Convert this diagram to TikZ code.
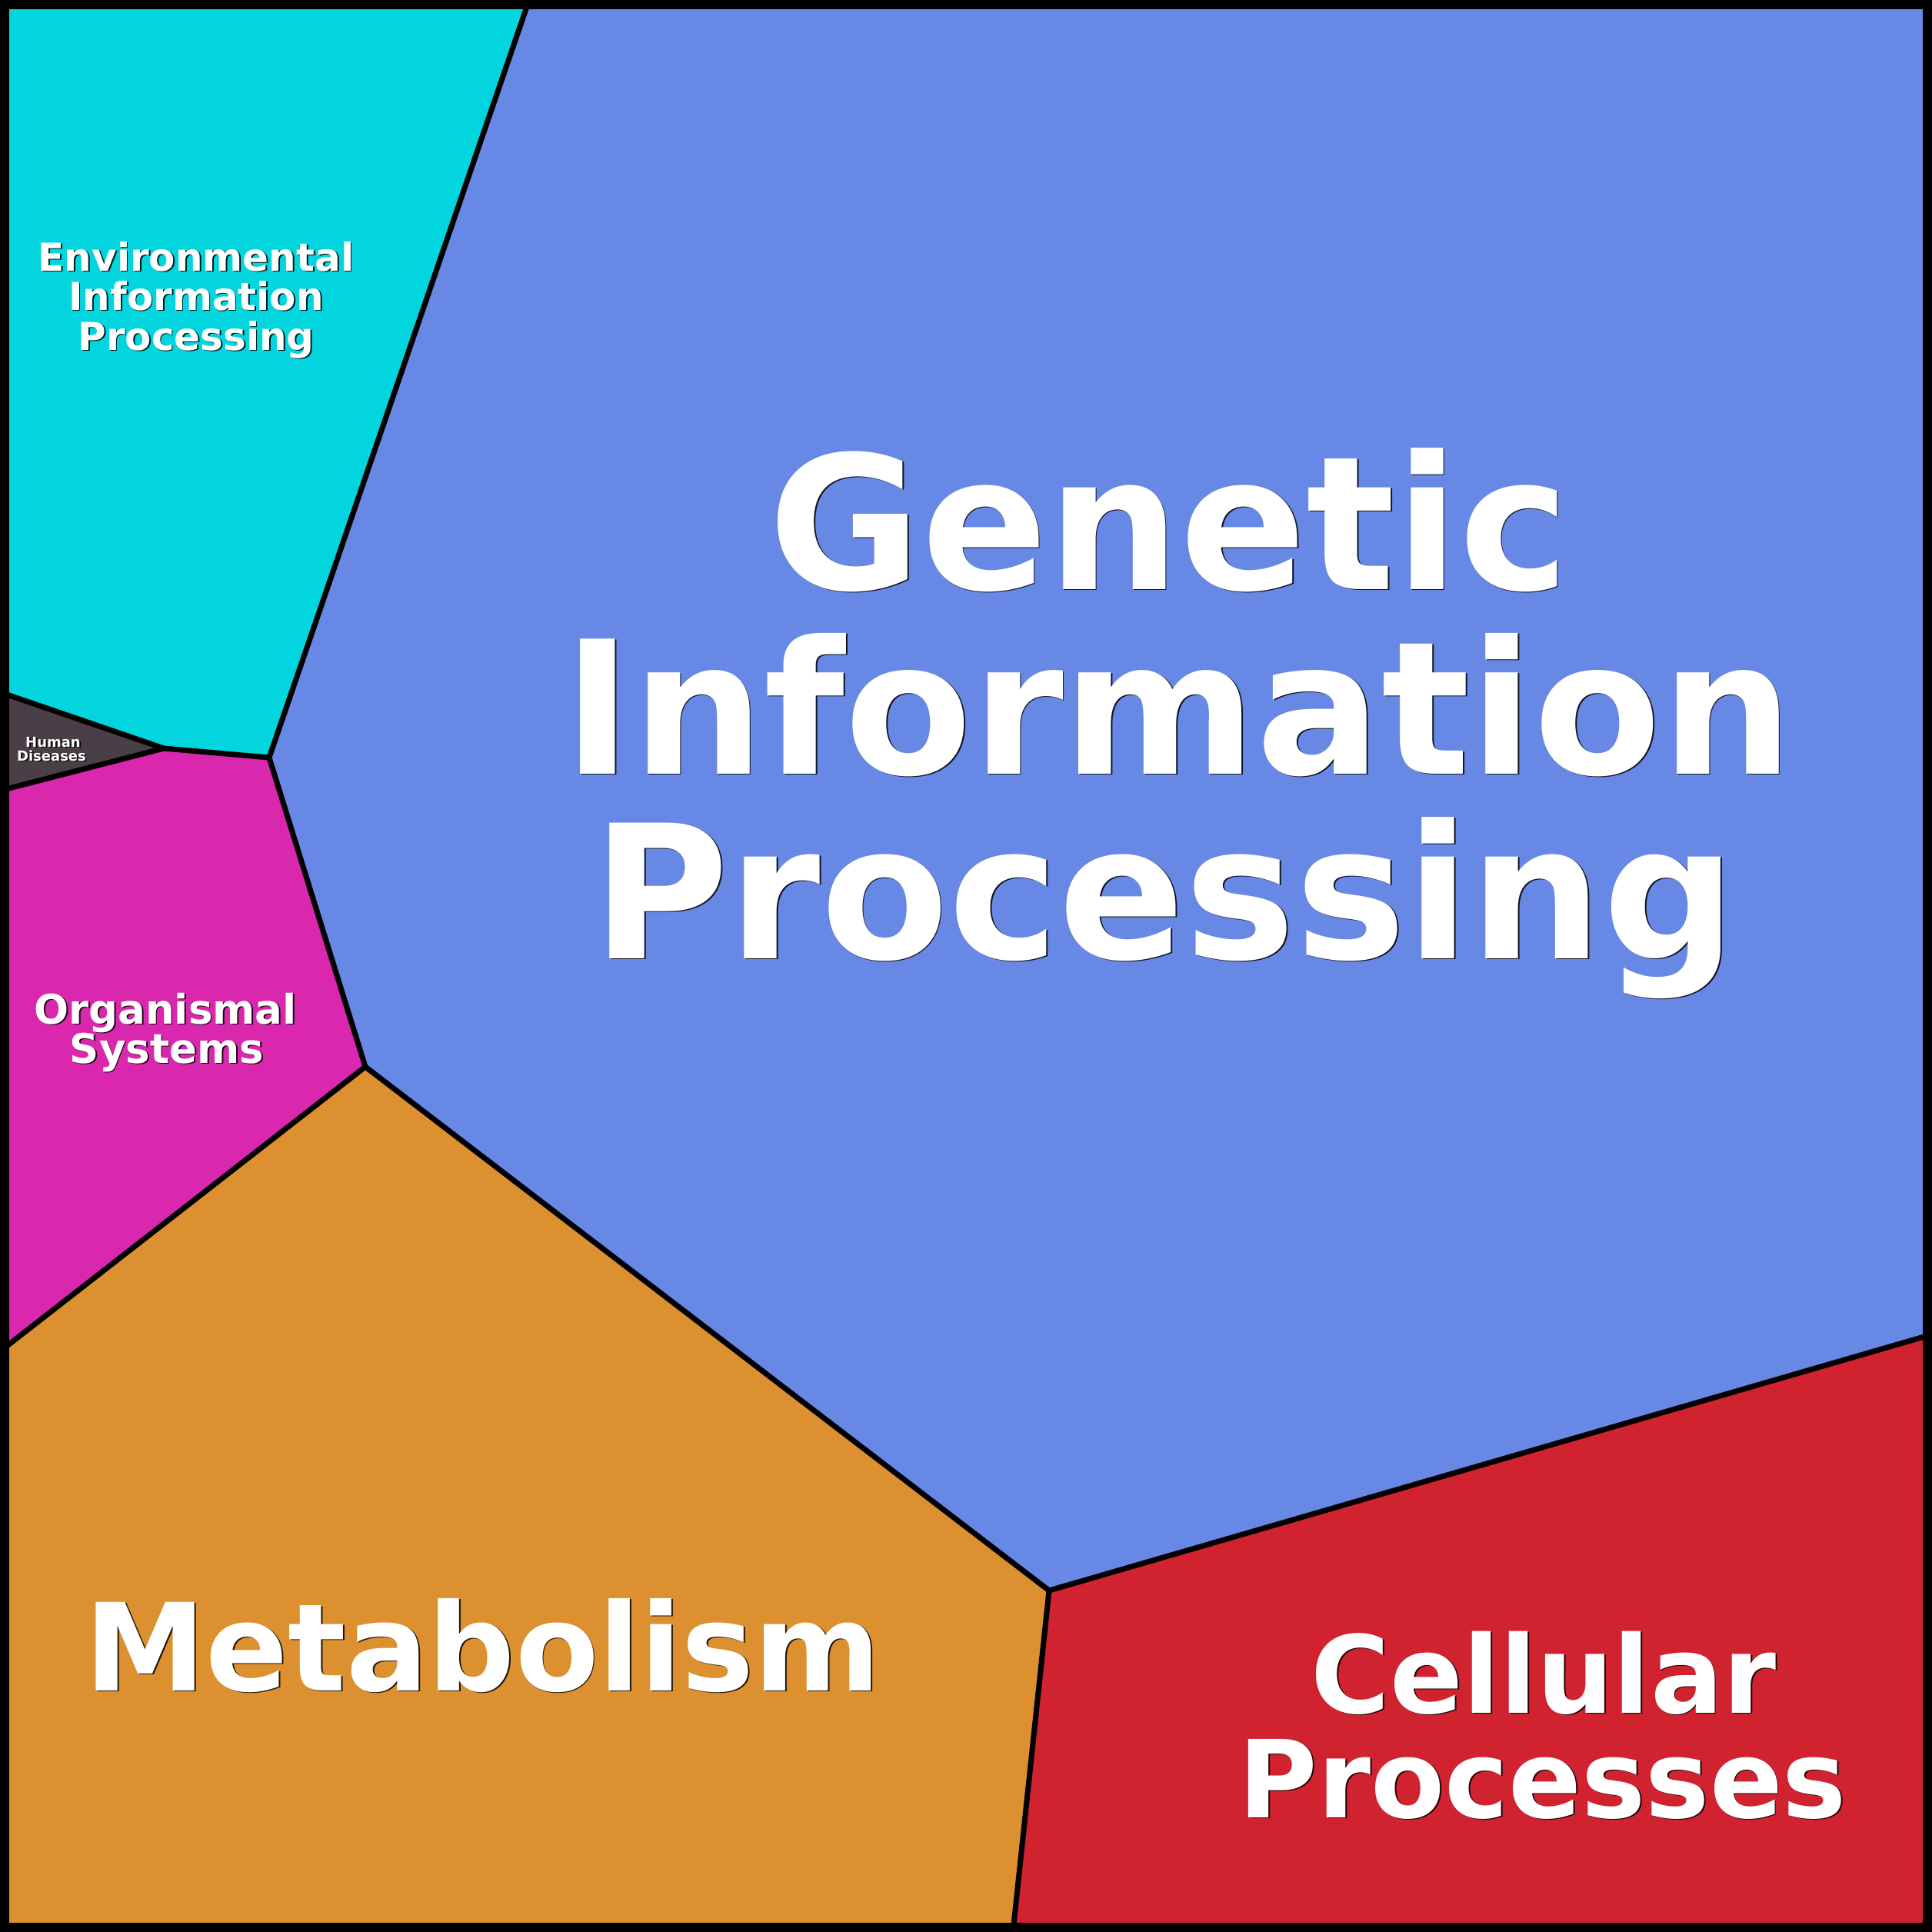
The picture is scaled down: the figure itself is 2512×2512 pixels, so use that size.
\documentclass[tikz,border=0pt]{standalone}
\usepackage{fontspec}
\newfontfamily\dvs{DejaVu Sans}
\definecolor{cEnv}{HTML}{03D5DF}
\definecolor{cGen}{HTML}{6789E5}
\definecolor{cHum}{HTML}{4B3F47}
\definecolor{cOrg}{HTML}{D927AE}
\definecolor{cMet}{HTML}{DC902F}
\definecolor{cCel}{HTML}{D12230}
\tikzset{
  cellline/.style={draw=black,line width=7pt,line join=round},
  txtshadow/.style={text=black,anchor=base,inner sep=0pt,opacity=0.85},
  txtmain/.style={text=white,anchor=base,inner sep=0pt}
}
% \lbl{name}{x}{y}{size}{text}
\newcommand{\lbl}[5]{%
  \node[txtshadow,font=\dvs\bfseries\fontsize{#4}{#4}\selectfont] (#1s) at (#2+1.8,#3+1.8) {#5};
  \node[txtmain,font=\dvs\bfseries\fontsize{#4}{#4}\selectfont] (#1) at (#2,#3) {#5};}
\begin{document}
\begin{tikzpicture}[x=1pt,y=-1pt]
\useasboundingbox (0,0) rectangle (2512,2512);
% vertices
\coordinate (T) at (688,0);
\coordinate (EG) at (350,985);
\coordinate (HJ) at (213,973);
\coordinate (HT) at (0,900);
\coordinate (HB) at (0,1028);
\coordinate (OGM) at (475,1387);
\coordinate (OM) at (0,1757);
\coordinate (GMC) at (1364,2068);
\coordinate (GC) at (2512,1735);
\coordinate (MC) at (1317,2512);
% regions
\fill[cEnv] (0,0) -- (T) -- (EG) -- (HJ) -- (HT) -- cycle;
\fill[cGen] (T) -- (2512,0) -- (GC) -- (GMC) -- (OGM) -- (EG) -- cycle;
\fill[cHum] (HT) -- (HJ) -- (HB) -- cycle;
\fill[cOrg] (HB) -- (HJ) -- (EG) -- (OGM) -- (OM) -- cycle;
\fill[cMet] (OM) -- (OGM) -- (GMC) -- (MC) -- (0,2512) -- cycle;
\fill[cCel] (GMC) -- (GC) -- (2512,2512) -- (MC) -- cycle;
% borders
\draw[cellline] (T) -- (EG);
\draw[cellline] (HT) -- (HJ) -- (EG) -- (OGM) -- (GMC) -- (GC);
\draw[cellline] (HJ) -- (HB);
\draw[cellline] (OGM) -- (OM);
\draw[cellline] (GMC) -- (MC);
\draw[black,line width=12pt] (6,6) rectangle (2506,2506);
% labels
\lbl{env1}{255}{352}{50}{Environmental}
\lbl{env2}{255}{403}{50}{Information}
\lbl{env3}{255}{455}{50}{Processing}
\lbl{hum1}{69}{971}{18}{Human}
\lbl{hum2}{67}{989}{18}{Diseases}
\lbl{org1}{215}{1331}{53}{Organismal}
\lbl{org2}{217}{1382}{53}{Systems}
\lbl{gen1}{1520}{766}{242}{Genetic}
\lbl{gen2}{1532}{1006}{241}{Information}
\lbl{gen3}{1514}{1246}{242}{Processing}
\lbl{met}{628}{2198}{158}{Metabolism}
\lbl{cel1}{2007}{2227}{140}{Cellular}
\lbl{cel2}{2006}{2363}{140}{Processes}
\end{tikzpicture}
\end{document}
